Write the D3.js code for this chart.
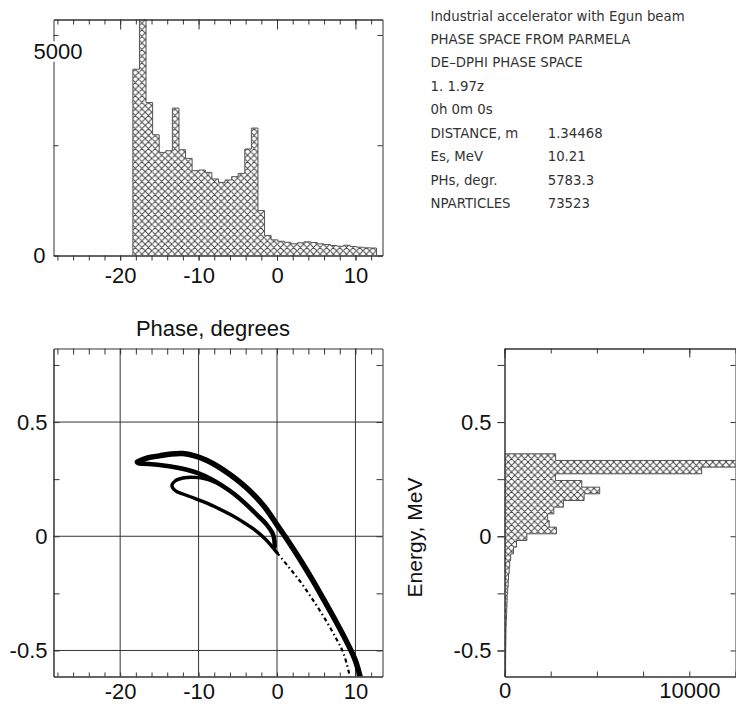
<!DOCTYPE html>
<html><head><meta charset="utf-8">
<script src="https://cdn.jsdelivr.net/npm/d3@7"></script>
<style>body{margin:0;background:#fff} svg{display:block;background:#fff}</style>
</head><body>
<svg id="c" width="736" height="704"></svg>
<script>
// ---------- DATA ----------
const phaseBinStart = -18.38;
const phaseBinWidth = 0.8395;
const phaseCounts = [4223,5350,3468,2737,2337,2375,3341,2398,2201,1923,1938,1884,1735,1658,1712,1787,1862,2414,2889,1018,452,355,323,300,265,287,310,294,265,249,226,210,233,204,188,174,170];

const energyBinTop = 0.361;
const energyBinWidth = 0.0292;
const energyCounts = [2768,24000,10670,2757,4184,5151,4308,3189,2670,2335,2416,2811,1211,649,486,335,281,254,216,200,173,146,135,119,108,92,81,76,70,65,65,59,59,54];

// scatter branches: [phase (deg), energy (MeV)]
const outerBranch = [[-17.8,0.325],[-16.5,0.343],[-15,0.352],[-13.5,0.36],[-12,0.362],[-10.5,0.352],[-9,0.333],[-7.5,0.305],[-6,0.27],[-4.5,0.23],[-3,0.183],[-1.5,0.125],[0,0.05],[1.5,-0.025],[3,-0.105],[4.5,-0.19],[6,-0.28],[7.5,-0.372],[9,-0.47],[10,-0.545],[10.7,-0.63]];
const middleBranch = [[-17.6,0.318],[-16,0.315],[-14.5,0.31],[-13,0.302],[-11.5,0.291],[-10,0.275],[-8.5,0.252],[-7,0.222],[-5.5,0.186],[-4,0.142],[-2.5,0.092],[-1.3,0.05],[-0.6,0.015],[-0.35,-0.015],[-0.3,-0.045]];
const loopBranch = [[-7.2,0.226],[-9,0.25],[-10.5,0.258],[-12,0.255],[-13,0.242],[-13.4,0.222],[-13,0.2],[-12,0.185],[-10.5,0.166],[-9,0.146],[-7.5,0.122],[-6,0.096],[-4.5,0.066],[-3,0.032],[-1.5,-0.012],[0,-0.072]];
const tailBranch = [[0,-0.072],[1.5,-0.135],[3,-0.2],[4.5,-0.275],[6,-0.355],[7.5,-0.445],[8.5,-0.515],[9.4,-0.63]];

const phaseMinor = d3.range(-28, 13, 2);
const phaseMajor = [-20, -10, 0, 10];
const countMinor = [0, 2500, 5000];
const countLabels = [0, 5000];
const energyMinor = [-0.5, -0.25, 0, 0.25, 0.5, 0.75];
const energyMajor = [-0.5, 0, 0.5];
const countHMinor = [0, 2500, 5000, 7500, 10000, 12500];
const countHMajor = [0, 10000];

const infoLines = ["Industrial accelerator with Egun beam", "PHASE SPACE FROM PARMELA", "DE\u2013DPHI PHASE SPACE", "1. 1.97z", "0h 0m 0s"];
const infoLabels = ["DISTANCE, m", "Es, MeV", "PHs, degr.", "NPARTICLES"];
const infoValues = ["1.34468", "10.21", "5783.3", "73523"];

// ---------- SETUP ----------
const svg = d3.select("#c");
const FONT = "'Liberation Sans', Arial, sans-serif";
const AX = "#333";
const fmtNum = d => String(d);           // plain hyphen minus, as in the reference

const defs = svg.append("defs");
const pat = defs.append("pattern").attr("id","hatch").attr("patternUnits","userSpaceOnUse")
  .attr("width",6.6).attr("height",6.6);
pat.append("rect").attr("width",6.6).attr("height",6.6).attr("fill","#fff");
pat.append("path").attr("d","M-1,-1 L7.6,7.6 M-1,7.6 L7.6,-1 M5.6,-1 L7.6,1 M-1,5.6 L1,7.6 M-1,1 L1,-1 M5.6,7.6 L7.6,5.6")
  .attr("stroke","#444").attr("stroke-width",1);

function clip(id,x0,y0,x1,y1){
  defs.append("clipPath").attr("id",id).append("rect").attr("x",x0).attr("y",y0).attr("width",x1-x0).attr("height",y1-y0);
}
function styleAxis(g){
  g.selectAll("path,line").attr("stroke",AX).attr("stroke-width",1);
  g.selectAll("text").attr("font-family",FONT).attr("font-size",22).attr("fill","#111");
  return g;
}
function axisDraw(gen, tr){
  const g = svg.append("g").attr("transform",tr).call(gen);
  return styleAxis(g);
}

// ---------- PANEL 1 : phase histogram ----------
const x1 = d3.scaleLinear().domain([-28.5,13.45]).range([53.5,382.5]);
const y1 = d3.scaleLinear().domain([0,5350]).range([255.5,19.5]);
clip("c1", 53.5, 19.5, 382.5, 255.5);

const g1 = svg.append("g").attr("clip-path","url(#c1)");
const bins1 = phaseCounts.map((c,i)=>({x0: phaseBinStart + i*phaseBinWidth, x1: phaseBinStart + (i+1)*phaseBinWidth, c}));
g1.selectAll("rect").data(bins1).join("rect")
  .attr("x",d=>x1(d.x0)).attr("width",d=>x1(d.x1)-x1(d.x0))
  .attr("y",d=>y1(d.c)).attr("height",d=>y1(0)-y1(d.c))
  .attr("fill","url(#hatch)");
const outline1 = [[bins1[0].x0,0]];
bins1.forEach(b=>{outline1.push([b.x0,b.c]); outline1.push([b.x1,b.c]);});
outline1.push([bins1[bins1.length-1].x1,0]);
g1.append("path").attr("d", d3.line().x(d=>x1(d[0])).y(d=>y1(d[1]))(outline1))
  .attr("fill","none").attr("stroke","#555").attr("stroke-width",1);

axisDraw(d3.axisBottom(x1).tickValues(phaseMinor).tickSize(5).tickSizeOuter(0).tickFormat(""), "translate(0,255.5)");
axisDraw(d3.axisBottom(x1).tickValues(phaseMajor).tickSize(5).tickSizeOuter(0).tickPadding(7).tickFormat(fmtNum), "translate(0,255.5)");
axisDraw(d3.axisTop(x1).tickValues(phaseMinor).tickSize(-5).tickSizeOuter(0).tickFormat(""), "translate(0,19.5)");
axisDraw(d3.axisTop(x1).tickValues(phaseMajor).tickSize(-10).tickSizeOuter(0).tickFormat(""), "translate(0,19.5)");
axisDraw(d3.axisRight(y1).tickValues(countMinor).tickSize(-5).tickSizeOuter(0).tickFormat(""), "translate(382.5,0)");
const ly1 = axisDraw(d3.axisLeft(y1).tickValues(countMinor).tickSize(-5).tickSizeOuter(0).tickPadding(8)
  .tickFormat(d=>countLabels.includes(d)?String(d):""), "translate(53.5,0)");
ly1.selectAll(".tick").filter(d=>d===5000).select("text")
  .attr("transform","translate(37,17)")
  .attr("stroke","#fff").attr("stroke-width",6).attr("paint-order","stroke");

// ---------- PANEL 2 : scatter ----------
const y2 = d3.scaleLinear().domain([-0.614,0.822]).range([676.5,348.5]);
clip("c2", 53.5, 348.5, 382.5, 676.5);
const grid = svg.append("g");
grid.selectAll(".vg").data(phaseMajor).join("line").attr("class","vg")
  .attr("x1",d=>x1(d)).attr("x2",d=>x1(d)).attr("y1",348.5).attr("y2",676.5)
  .attr("stroke",AX).attr("stroke-width",1);
grid.selectAll(".hg").data(energyMajor).join("line").attr("class","hg")
  .attr("y1",d=>y2(d)).attr("y2",d=>y2(d)).attr("x1",53.5).attr("x2",382.5)
  .attr("stroke",AX).attr("stroke-width",1);

const g2 = svg.append("g").attr("clip-path","url(#c2)");
const line2 = d3.line().x(d=>x1(d[0])).y(d=>y2(d[1])).curve(d3.curveCatmullRom.alpha(0.5));
const branches = [
  {pts: outerBranch, w: 5.5, dash: null},
  {pts: middleBranch, w: 4.5, dash: null},
  {pts: loopBranch, w: 3.4, dash: null},
  {pts: tailBranch, w: 2.2, dash: "4,3,1.5,3"}
];
g2.selectAll("path").data(branches).join("path")
  .attr("d",d=>line2(d.pts)).attr("fill","none").attr("stroke","#000")
  .attr("stroke-width",d=>d.w).attr("stroke-linecap",d=>d.dash?"butt":"round").attr("stroke-linejoin","round")
  .attr("stroke-dasharray",d=>d.dash);

axisDraw(d3.axisBottom(x1).tickValues(phaseMinor).tickSize(-4).tickSizeOuter(0).tickFormat(""), "translate(0,676.5)");
axisDraw(d3.axisBottom(x1).tickValues(phaseMajor).tickSize(0).tickSizeOuter(0).tickPadding(7).tickFormat(fmtNum), "translate(0,676.5)");
axisDraw(d3.axisTop(x1).tickValues(phaseMinor).tickSize(-6).tickSizeOuter(0).tickFormat(""), "translate(0,348.5)");
axisDraw(d3.axisLeft(y2).tickValues(energyMinor).tickSize(-6).tickSizeOuter(0).tickFormat(""), "translate(53.5,0)");
axisDraw(d3.axisLeft(y2).tickValues(energyMajor).tickSize(0).tickSizeOuter(0).tickPadding(6).tickFormat(fmtNum), "translate(53.5,0)");
axisDraw(d3.axisRight(y2).tickValues(energyMinor).tickSize(-6).tickSizeOuter(0).tickFormat(""), "translate(382.5,0)");

svg.append("text").attr("x",213).attr("y",336).attr("text-anchor","middle")
  .attr("font-family",FONT).attr("font-size",22).attr("fill","#111").text("Phase, degrees");

// ---------- PANEL 3 : energy histogram ----------
const x3 = d3.scaleLinear().domain([0,12500]).range([504.5,735.5]);
clip("c3", 504.5, 348.5, 735.5, 676.5);
const g3 = svg.append("g").attr("clip-path","url(#c3)");
const bins3 = energyCounts.map((c,i)=>({e0: energyBinTop - i*energyBinWidth, e1: energyBinTop - (i+1)*energyBinWidth, c}));
g3.selectAll("rect").data(bins3).join("rect")
  .attr("x",x3(0)).attr("width",d=>x3(d.c)-x3(0))
  .attr("y",d=>y2(d.e0)).attr("height",d=>y2(d.e1)-y2(d.e0))
  .attr("fill","url(#hatch)");
const outline3 = [[0,bins3[0].e0]];
bins3.forEach(b=>{outline3.push([b.c,b.e0]); outline3.push([b.c,b.e1]);});
outline3.push([0,bins3[bins3.length-1].e1]);
g3.append("path").attr("d", d3.line().x(d=>x3(d[0])).y(d=>y2(d[1]))(outline3))
  .attr("fill","none").attr("stroke","#555").attr("stroke-width",1);

axisDraw(d3.axisLeft(y2).tickValues(energyMinor).tickSize(7).tickSizeOuter(0).tickFormat(""), "translate(504.5,0)");
axisDraw(d3.axisLeft(y2).tickValues(energyMajor).tickSize(7).tickSizeOuter(0).tickPadding(6).tickFormat(fmtNum), "translate(504.5,0)");
axisDraw(d3.axisRight(y2).tickValues(energyMinor).tickSize(-5).tickSizeOuter(0).tickFormat(""), "translate(735.5,0)");
axisDraw(d3.axisTop(x3).tickValues(countHMinor).tickSize(-5).tickSizeOuter(0).tickFormat(""), "translate(0,348.5)");
axisDraw(d3.axisTop(x3).tickValues(countHMajor).tickSize(-9).tickSizeOuter(0).tickFormat(""), "translate(0,348.5)");
axisDraw(d3.axisBottom(x3).tickValues(countHMinor).tickSize(-5).tickSizeOuter(0).tickFormat(""), "translate(0,676.5)");
axisDraw(d3.axisBottom(x3).tickValues(countHMajor).tickSize(0).tickSizeOuter(0).tickPadding(6).tickFormat(fmtNum), "translate(0,676.5)");

svg.append("text").attr("transform","translate(422,537.5) rotate(-90)").attr("text-anchor","middle")
  .attr("font-family",FONT).attr("font-size",21).attr("fill","#111").text("Energy, MeV");

// ---------- INFO TEXT ----------
const info = svg.append("g").attr("font-family","'DejaVu Sans', sans-serif").attr("font-size",13.3).attr("fill","#333");
info.selectAll(".l").data(infoLines).join("text").attr("class","l")
  .attr("x",430.5).attr("y",(d,i)=>20.5 + i*23.45).text(d=>d);
info.selectAll(".k").data(infoLabels).join("text").attr("class","k")
  .attr("x",430.5).attr("y",(d,i)=>20.5 + (i+5)*23.45).text(d=>d);
info.selectAll(".v").data(infoValues).join("text").attr("class","v")
  .attr("x",547.7).attr("y",(d,i)=>20.5 + (i+5)*23.45).text(d=>d);
</script>
</body></html>
